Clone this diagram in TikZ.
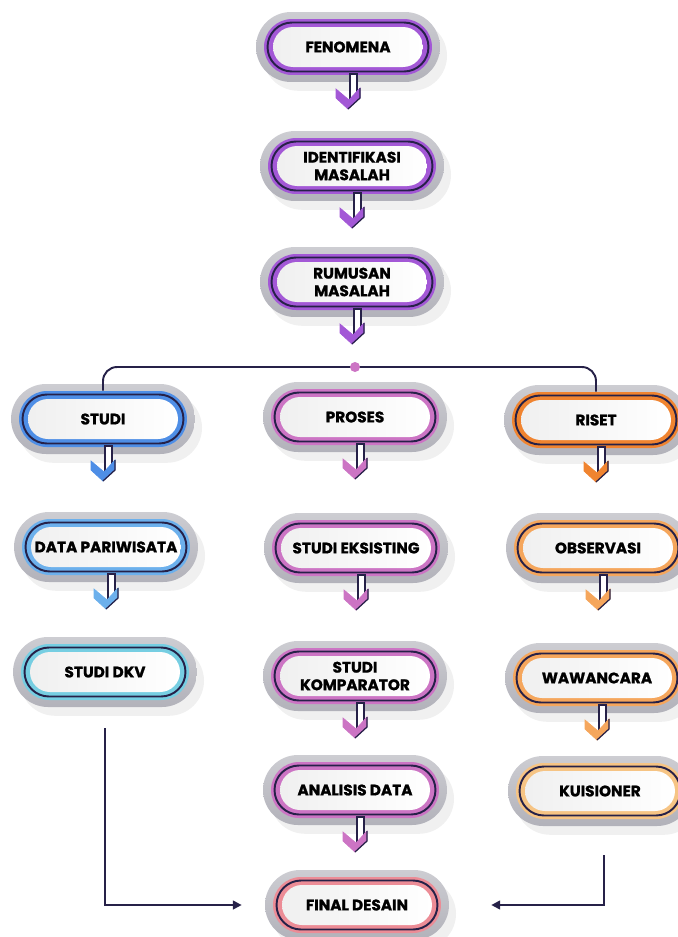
\documentclass[tikz,border=0pt]{standalone}
\usepackage{fontspec}
\setmainfont{Poppins}[BoldFeatures={FakeBold=1.2}]
\definecolor{InkNavy}{RGB}{38,33,72}
\definecolor{ShellGrey}{RGB}{178,178,186}
\definecolor{Violet}{RGB}{163,88,214}
\definecolor{Orchid}{RGB}{204,116,196}
\definecolor{SkyBlue}{RGB}{78,142,230}
\definecolor{LightBlue}{RGB}{108,176,236}
\definecolor{Aqua}{RGB}{118,206,226}
\definecolor{DeepOrange}{RGB}{240,132,48}
\definecolor{MidOrange}{RGB}{245,166,92}
\definecolor{PaleOrange}{RGB}{246,196,132}
\definecolor{Salmon}{RGB}{236,140,150}
\usetikzlibrary{arrows.meta, shapes.misc, shadows, calc}

\tikzset{
  shell/.style={rounded rectangle, minimum width=3.68cm, minimum height=1.4cm,
    inner sep=0pt, top color=ShellGrey!65, bottom color=ShellGrey,
    drop shadow={opacity=0.12, shadow xshift=4pt, shadow yshift=-5pt}},
  band/.style={rounded rectangle, minimum width=3.36cm, minimum height=1.12cm, inner sep=0pt},
  ring/.style={rounded rectangle, minimum width=3.22cm, minimum height=0.98cm,
    inner sep=0pt, draw=InkNavy, line width=1.1pt},
  core/.style={rounded rectangle, minimum width=3.0cm, minimum height=0.8cm,
    inner sep=0pt, left color=gray!12, right color=white, align=center,
    font=\fontsize{8.7}{10}\selectfont\bfseries, text=black},
  link/.style={draw=InkNavy, line width=1.1pt},
}

% one pill: grey shell, coloured band, dark ring, white core with the text
\newcommand{\pill}[4]{%
  \node[shell] (#1-shell) at (#2) {};
  \node[band, fill=#3] (#1-band) at (#2) {};
  \node[ring] (#1-ring) at (#2) {};
  \node[core] (#1) at (#2) {#4};
}
% small down arrow under a pill
\newcommand{\flowarrow}[2]{%
  \filldraw[fill=white, draw=InkNavy, line width=0.7pt] ($(#1)+(2,27)$) rectangle ($(#1)+(9,52)$);
  \filldraw[fill=#2, draw=#2] ($(#1)+(0,62)$) coordinate (#1-tip)
     -- ++(-12,-11) -- ++(0,-9) -- ++(13,11) -- ++(11,-12) -- ++(0,10) -- cycle;
  \draw[InkNavy, line width=0.7pt] (#1-tip) -- ++(12,-11) -- ++(0,-10);
}

\begin{document}
\begin{tikzpicture}[x=0.02cm, y=-0.02cm]
  \useasboundingbox (0,0) rectangle (678,937);

  % main line
  \pill{fen}{348,47}{Violet}{FENOMENA}
  \pill{idm}{352,166}{Violet}{IDENTIFIKASI\\MASALAH}
  \pill{rum}{352,282}{Violet}{RUMUSAN\\MASALAH}
  \flowarrow{fen}{Violet}
  \flowarrow{idm}{Violet}
  \flowarrow{rum}{Violet}

  % three branches
  \pill{studi}{103,419}{SkyBlue}{STUDI}
  \pill{proses}{355,417}{Orchid}{PROSES}
  \pill{riset}{596,420}{DeepOrange}{RISET}

  \coordinate (hub) at (355,367);
  \draw[link, rounded corners=8pt] (studi-band.north) |- (hub) -| (riset-band.north);
  \node[circle, fill=Orchid, inner sep=0pt, minimum size=0.2cm] (hubdot) at (hub) {};

  % left column
  \pill{data}{106,547}{LightBlue}{DATA PARIWISATA}
  \pill{dkv}{105,672}{Aqua}{STUDI DKV}
  \flowarrow{studi}{SkyBlue}
  \flowarrow{data}{LightBlue}

  % middle column
  \pill{eks}{356,548}{Orchid}{STUDI EKSISTING}
  \pill{komp}{355,676}{Orchid}{STUDI\\KOMPARATOR}
  \pill{anal}{355,790}{Orchid}{ANALISIS DATA}
  \flowarrow{proses}{Orchid}
  \flowarrow{eks}{Orchid}
  \flowarrow{komp}{Orchid}
  \flowarrow{anal}{Orchid}

  % right column
  \pill{obs}{598,548}{MidOrange}{OBSERVASI}
  \pill{waw}{597,678}{MidOrange}{WAWANCARA}
  \pill{kuis}{600,791}{PaleOrange}{KUISIONER}
  \flowarrow{riset}{DeepOrange}
  \flowarrow{obs}{MidOrange}
  \flowarrow{waw}{MidOrange}

  % end
  \pill{final}{357,905}{Salmon}{FINAL DESAIN}

  \draw[link, -{Triangle[length=5pt,width=5pt]}, shorten >=0.46cm]
    ($(dkv-shell.south)+(0,21)$) |- (final-shell.west);
  \draw[link, -{Triangle[length=5pt,width=5pt]}, shorten >=0.84cm]
    ($(kuis-shell.south)+(4,29)$) |- (final-shell.east);
\end{tikzpicture}
\end{document}
